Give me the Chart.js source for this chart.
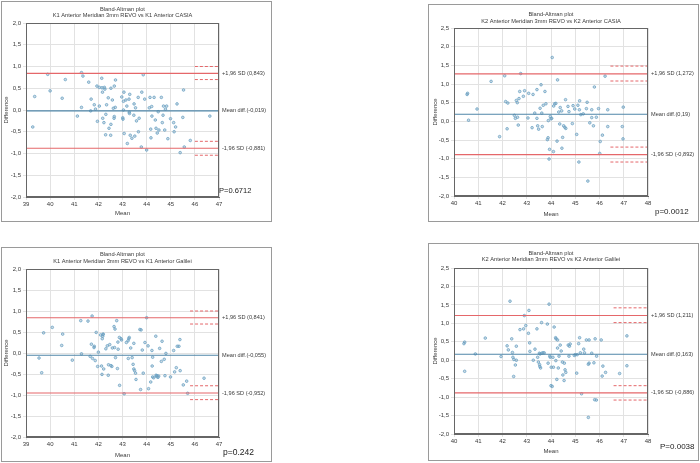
<!DOCTYPE html>
<html><head><meta charset="utf-8">
<script src="https://cdn.jsdelivr.net/npm/chart.js@4.4.0/dist/chart.umd.min.js"></script>
<style>
body{margin:0;background:#fff;width:700px;height:463px;position:relative;overflow:hidden;font-family:"Liberation Sans",Arial,sans-serif;}
.frame{position:absolute;border:1px solid #9a9a9a;box-sizing:border-box;}
canvas{position:absolute;}
.pv{position:absolute;color:#222;white-space:nowrap;font-family:"Liberation Sans",Arial,sans-serif;}
</style></head><body>
<script>
// ---------- data ----------
const k1CasiaMean = [39.28,39.36,39.9,40.0,40.5,40.63,41.13,41.3,41.36,41.3,41.6,41.68,41.7,41.83,41.88,41.94,41.96,42.04,42.04,42.14,42.15,42.17,42.18,42.25,42.27,42.23,42.31,42.3,42.34,42.41,42.44,42.51,42.52,42.52,42.58,42.62,42.65,42.66,42.7,42.71,42.66,42.97,43.01,43.02,43.04,43.04,43.06,43.07,43.14,43.18,43.2,43.27,43.3,43.29,43.28,43.32,43.39,43.47,43.48,43.51,43.54,43.58,43.65,43.66,43.69,43.8,43.78,43.86,43.92,44.0,44.11,44.14,44.17,44.18,44.21,44.22,44.31,44.36,44.39,44.44,44.48,44.51,44.61,44.65,44.68,44.7,44.75,44.78,44.83,44.88,44.99,45.12,45.14,45.2,45.26,45.39,45.5,45.53,45.56,45.81,46.62];
const k1CasiaDiff = [-0.39,0.31,0.82,0.44,0.27,0.70,-0.14,0.86,0.78,0.06,0.64,-0.02,0.25,0.12,0.02,0.55,-0.26,0.09,0.52,0.73,0.51,0.41,-0.19,0.52,0.48,-0.29,-0.1,-0.57,0.12,0.28,-0.42,-0.58,0.5,-0.33,0.23,0.04,-0.19,0.55,0.06,0.69,-0.15,0.3,-0.18,-0.21,0.0,0.2,0.41,-0.54,0.23,0.09,-0.77,0.25,0.36,-0.08,-0.05,-0.58,-0.65,-0.12,0.14,-0.6,0.05,-0.25,0.29,-0.5,-0.19,0.41,-0.85,0.81,0.25,-0.92,0.05,0.29,-0.44,-0.64,0.08,-0.14,0.29,-0.23,-0.42,-0.53,-0.04,-0.46,0.29,-0.29,-0.12,0.09,-0.46,0.02,0.09,-0.66,-0.2,-0.29,-0.5,-0.39,0.14,-0.98,-0.17,0.46,-0.85,-0.7,-0.14];
const k1CasiaLimits = [0.843, -0.019, -0.881];
const k1CasiaCI = [1.0, 0.7, -0.72, -1.04];
const k1CasiaLabels = ["+1,96 SD (0,843)", "Mean diff.(-0,019)", "-1,96 SD (-0,881)"];

const k1GalileiMean = [39.54,39.65,39.73,40.09,40.48,40.52,40.92,41.27,41.3,41.57,41.66,41.71,41.74,41.76,41.82,41.83,41.87,41.91,41.97,42.0,42.09,42.13,42.15,42.16,42.18,42.19,42.2,42.22,42.31,42.37,42.41,42.42,42.47,42.52,42.56,42.58,42.65,42.67,42.69,42.71,42.76,42.79,42.81,42.82,42.87,42.88,42.94,42.96,43.07,43.16,43.23,43.24,43.26,43.28,43.34,43.4,43.44,43.47,43.47,43.5,43.54,43.56,43.72,43.77,43.82,43.75,43.86,43.93,44.0,44.06,44.08,44.17,44.22,44.25,44.23,44.25,44.29,44.38,44.39,44.41,44.43,44.47,44.5,44.54,44.64,44.61,44.73,44.76,44.8,44.99,45.12,45.16,45.23,45.27,45.34,45.38,45.39,45.52,45.66,45.7,46.38];
const k1GalileiDiff = [-0.12,-0.47,0.48,0.61,0.18,0.45,-0.17,0.77,-0.02,0.76,-0.08,0.21,0.88,-0.13,0.13,0.16,-0.18,0.49,-0.32,0.02,0.43,-0.31,-0.51,0.34,0.4,0.44,0.45,-0.38,0.1,0.17,-0.53,-0.28,0.2,-0.3,-0.32,0.12,0.63,0.13,0.57,-0.11,0.77,-0.37,0.26,0.09,0.37,-0.77,0.34,0.31,-0.97,0.25,0.29,-0.13,0.34,0.37,0.12,-0.11,-0.27,0.23,-0.38,-0.42,-0.48,-0.63,0.56,0.55,0.07,-0.87,-0.48,0.25,0.84,0.17,-0.85,-0.69,0.06,-0.1,-0.31,-0.57,-0.59,0.4,-0.53,-0.56,-0.54,-0.58,-0.55,0.11,0.28,-0.2,-0.15,-0.54,-0.01,-0.57,0.06,-0.45,-0.35,0.16,0.16,0.32,-0.42,-0.76,-0.67,-0.96,-0.6];
const k1GalileiLimits = [0.841, -0.055, -0.952];
const k1GalileiCI = [1.0, 0.69, -0.78, -1.11];
const k1GalileiLabels = ["+1,96 SD (0,841)", "Mean diff.(-0,055)", "-1,96 SD (-0,952)"];

const k2CasiaMean = [40.54,40.56,40.6,40.95,41.53,41.88,42.09,42.13,42.22,42.19,42.49,42.53,42.57,42.61,42.62,42.65,42.68,42.71,42.75,42.86,42.91,43.05,43.08,43.22,43.26,43.33,43.42,43.42,43.45,43.49,43.55,43.59,43.62,43.64,43.68,43.75,43.79,43.85,43.88,43.89,43.92,43.94,43.97,44.0,44.03,44.05,44.1,44.11,44.15,44.2,44.25,44.27,44.32,44.36,44.38,44.44,44.45,44.48,44.52,44.57,44.6,44.61,44.7,44.74,44.88,44.91,44.98,45.06,45.11,45.17,45.18,45.15,45.23,45.33,45.46,45.49,45.52,45.6,45.68,45.68,45.75,45.79,45.87,45.96,46.01,46.03,46.12,46.23,46.34,46.34,46.94,46.97,46.98];
const k2CasiaDiff = [0.72,0.75,0.03,0.33,1.07,-0.41,1.22,0.53,0.49,-0.2,0.16,0.08,0.56,0.5,0.11,-0.1,0.61,0.8,1.28,0.67,0.82,0.09,0.75,-0.17,0.72,0.22,0.85,0.08,-0.12,-0.21,0.35,0.98,0.22,-0.14,0.43,0.8,0.47,-0.49,-0.44,0.02,-1.01,-0.75,0.13,0.07,0.08,1.71,-0.81,0.41,0.47,0.48,-0.53,1.11,0.25,-0.07,0.37,0.28,-0.72,-0.43,-0.12,-0.16,0.58,-0.19,0.4,0.26,-0.06,0.42,0.33,-0.35,0.43,0.31,0.55,-1.09,0.18,0.2,0.34,0.51,-1.6,-0.04,0.31,0.1,-0.12,0.92,0.11,0.34,-0.86,-0.54,-0.37,1.21,0.31,-0.14,-0.14,-0.47,0.38];
const k2CasiaLimits = [1.272, 0.19, -0.892];
const k2CasiaCI = [1.48, 1.08, -0.69, -1.09];
const k2CasiaLabels = ["+1,96 SD (1,272)", "Mean diff.(0,19)", "-1,96 SD (-0,892)"];

const k2GalileiMean = [40.41,40.44,40.44,40.88,41.29,41.94,42.19,42.24,42.31,42.38,42.41,42.43,42.47,42.46,42.53,42.57,42.57,42.72,42.87,42.9,42.96,43.07,43.09,43.12,43.13,43.27,43.34,43.42,43.45,43.48,43.52,43.53,43.54,43.55,43.57,43.61,43.62,43.67,43.72,43.85,43.88,43.92,43.95,43.97,44.0,44.01,44.05,44.08,44.1,44.13,44.19,44.2,44.21,44.24,44.27,44.27,44.3,44.33,44.38,44.42,44.47,44.49,44.54,44.55,44.58,44.61,44.71,44.74,44.76,44.79,44.96,45.0,45.06,45.08,45.14,45.18,45.21,45.26,45.35,45.38,45.46,45.54,45.57,45.57,45.54,45.68,45.77,45.82,45.8,45.87,45.88,46.07,46.11,46.14,46.25,46.83,47.13,47.13];
const k2GalileiDiff = [0.45,0.49,-0.3,0.17,0.6,0.1,0.39,0.28,1.6,0.58,0.21,0.08,0.02,-0.44,-0.13,0.38,0.0,0.83,0.85,1.21,0.94,0.73,1.35,0.47,0.24,0.0,0.3,0.85,0.08,-0.05,0.19,-0.12,-0.17,0.17,-0.21,1.02,0.19,0.2,0.2,0.98,-0.08,1.52,0.11,0.08,-0.69,-0.19,-0.71,0.08,-0.19,0.9,0.61,-0.01,0.58,-0.52,0.55,0.33,-0.21,0.11,0.41,0.25,-0.05,-0.4,-0.55,-0.08,-0.26,-0.33,0.41,0.11,0.38,0.44,0.13,0.15,-0.35,0.15,0.45,0.61,0.2,-0.91,0.3,0.2,0.55,-0.11,-0.08,0.55,-1.55,0.19,-0.07,0.58,-1.07,-1.08,0.11,0.55,-0.43,-0.16,-0.33,-0.36,0.66,-0.15];
const k2GalileiLimits = [1.211, 0.163, -0.886];
const k2GalileiCI = [1.42, 1.02, -0.69, -1.08];
const k2GalileiLabels = ["+1,96 SD (1,211)", "Mean diff.(0,163)", "-1,96 SD (-0,886)"];

const titleLine1 = "Bland-Altman plot";
const titles = [
  "K1 Anterior Meridian 3mm REVO vs K1 Anterior CASIA",
  "K1 Anterior Meridian 3mm REVO vs K1 Anterior Galilei",
  "K2 Anterior Meridian 3mm REVO vs K2 Anterior CASIA",
  "K2 Anterior Meridian 3mm REVO vs K2 Anterior Galilei"
];
const pValues = ["P=0.6712", "p=0.242", "p=0.0012", "P=0.0038"];
const xTitle = "Mean";
const yTitle = "Difference";

// ---------- drawing ----------
const FONT = '"Liberation Sans", Arial, sans-serif';
const RED = '#e5676a', BLUE = '#4f86a8', PT = '#6aa3c6', TXT = '#3a3a3a';

function makePanel(cfg) {
  const fr = document.createElement('div');
  fr.className = 'frame';
  Object.assign(fr.style, {left: cfg.fx+'px', top: cfg.fy+'px', width: cfg.fw+'px', height: cfg.fh+'px'});
  document.body.appendChild(fr);
  const cv = document.createElement('canvas');
  cv.width = cfg.fw; cv.height = cfg.fh;
  Object.assign(cv.style, {left: cfg.fx+'px', top: cfg.fy+'px', width: cfg.fw+'px', height: cfg.fh+'px'});
  document.body.appendChild(cv);

  const pv = document.createElement('div');
  pv.className = 'pv';
  pv.textContent = cfg.pText;
  Object.assign(pv.style, {left: cfg.px+'px', top: (cfg.py - cfg.pSize/2)+'px', fontSize: cfg.pSize+'px', lineHeight: cfg.pSize+'px'});
  document.body.appendChild(pv);

  const yW = 20, xH = 14;
  const P = cfg.plot;
  const seg = (y, x0) => [{x: x0, y}, {x: cfg.xMax, y}];
  const datasets = [];
  cfg.ci.forEach(v => datasets.push({type:'line', data: seg(v, cfg.ciStart), borderColor: RED, borderWidth: 1, borderDash: [3,2], pointRadius: 0, fill: false}));
  datasets.push({type:'line', data: seg(cfg.limits[0], cfg.xMin), borderColor: RED, borderWidth: 1.1, pointRadius: 0, fill: false});
  datasets.push({type:'line', data: seg(cfg.limits[2], cfg.xMin), borderColor: RED, borderWidth: 1.1, pointRadius: 0, fill: false});
  datasets.push({type:'line', data: seg(cfg.limits[1], cfg.xMin), borderColor: BLUE, borderWidth: 1.1, pointRadius: 0, fill: false});
  datasets.push({type:'scatter', data: cfg.mean.map((m,i)=>({x:m, y:cfg.diff[i]})), pointStyle:'circle', pointRadius: 1.3, borderWidth: 0.8, borderColor: PT, backgroundColor: 'rgba(120,150,170,0.35)'});

  const textPlugin = {
    id: 'baText' + cfg.id,
    afterDraw(chart) {
      const {ctx, chartArea: a, scales: {y}} = chart;
      ctx.save();
      ctx.strokeStyle = '#666'; ctx.lineWidth = 1;
      ctx.strokeRect(Math.round(a.left)+0.5, Math.round(a.top)+0.5, Math.round(a.right-a.left)-1, Math.round(a.bottom-a.top)-1);
      ctx.fillStyle = TXT;
      ctx.font = '5.7px ' + FONT;
      ctx.textAlign = 'center'; ctx.textBaseline = 'middle';
      const cx = (a.left + a.right) / 2;
      ctx.fillText(titleLine1, cx, cfg.t1);
      ctx.fillText(cfg.title, cx, cfg.t2);
      ctx.font = '6px ' + FONT;
      ctx.fillText(xTitle, cx, cfg.meanY);
      ctx.save();
      ctx.translate(cfg.diffX, (a.top + a.bottom) / 2);
      ctx.rotate(-Math.PI/2);
      ctx.fillText(yTitle, 0, 0);
      ctx.restore();
      ctx.textAlign = 'left';
      ctx.font = '5.6px ' + FONT;
      cfg.limits.forEach((v, i) => ctx.fillText(cfg.labels[i], a.right + 3, y.getPixelForValue(v)));
      ctx.restore();
    }
  };

  new Chart(cv, {
    type: 'scatter',
    data: {datasets},
    options: {
      responsive: false, animation: false, devicePixelRatio: 1,
      layout: {padding: {left: P.L - yW, top: P.T, right: cfg.fw - P.R, bottom: cfg.fh - P.B - xH}},
      plugins: {legend: {display: false}, tooltip: {enabled: false}, title: {display: false}},
      scales: {
        x: {type: 'linear', min: cfg.xMin, max: cfg.xMax,
            ticks: {stepSize: 1, font: {size: 6, family: FONT}, color: TXT, padding: 1, maxRotation: 0, autoSkip: false},
            grid: {color: '#e2e2e2', tickLength: 3, lineWidth: 1},
            border: {color: '#666'},
            afterFit: s => { s.height = xH; s.paddingLeft = 0; s.paddingRight = 0; }},
        y: {type: 'linear', min: cfg.yMin, max: cfg.yMax,
            ticks: {stepSize: 0.5, font: {size: 6, family: FONT}, color: TXT, padding: 2, autoSkip: false,
                    callback: v => v.toFixed(1).replace('.', ',')},
            grid: {color: '#e2e2e2', tickLength: 3, lineWidth: 1},
            border: {color: '#666'},
            afterFit: s => { s.width = yW; s.paddingTop = 0; s.paddingBottom = 0; }}
      }
    },
    plugins: [textPlugin]
  });
}

makePanel({id:1, fx:1, fy:1, fw:271, fh:221, plot:{L:25, R:218, T:22, B:196},
  xMin:39, xMax:47, yMin:-2, yMax:2, mean:k1CasiaMean, diff:k1CasiaDiff, limits:k1CasiaLimits,
  ci:k1CasiaCI, ciStart:46, labels:k1CasiaLabels, title:titles[0], t1:8, t2:14, meanY:212, diffX:5,
  pText:pValues[0], px:219, py:191, pSize:7.5});
makePanel({id:2, fx:1, fy:247, fw:271, fh:215, plot:{L:25, R:218, T:22, B:190},
  xMin:39, xMax:47, yMin:-2, yMax:2, mean:k1GalileiMean, diff:k1GalileiDiff, limits:k1GalileiLimits,
  ci:k1GalileiCI, ciStart:45.8, labels:k1GalileiLabels, title:titles[1], t1:7, t2:14, meanY:208, diffX:5,
  pText:pValues[1], px:223, py:452, pSize:8.5});
makePanel({id:3, fx:428, fy:4, fw:271, fh:218, plot:{L:26, R:220, T:24, B:192},
  xMin:40, xMax:48, yMin:-2, yMax:2.5, mean:k2CasiaMean, diff:k2CasiaDiff, limits:k2CasiaLimits,
  ci:k2CasiaCI, ciStart:46.45, labels:k2CasiaLabels, title:titles[2], t1:10, t2:17, meanY:210, diffX:7,
  pText:pValues[2], px:655, py:212, pSize:8});
makePanel({id:4, fx:428, fy:243, fw:271, fh:218, plot:{L:26, R:220, T:25, B:191},
  xMin:40, xMax:48, yMin:-2, yMax:2.5, mean:k2GalileiMean, diff:k2GalileiDiff, limits:k2GalileiLimits,
  ci:k2GalileiCI, ciStart:46.58, labels:k2GalileiLabels, title:titles[3], t1:10, t2:16, meanY:208, diffX:7,
  pText:pValues[3], px:660, py:447, pSize:8});
</script>
</body></html>
